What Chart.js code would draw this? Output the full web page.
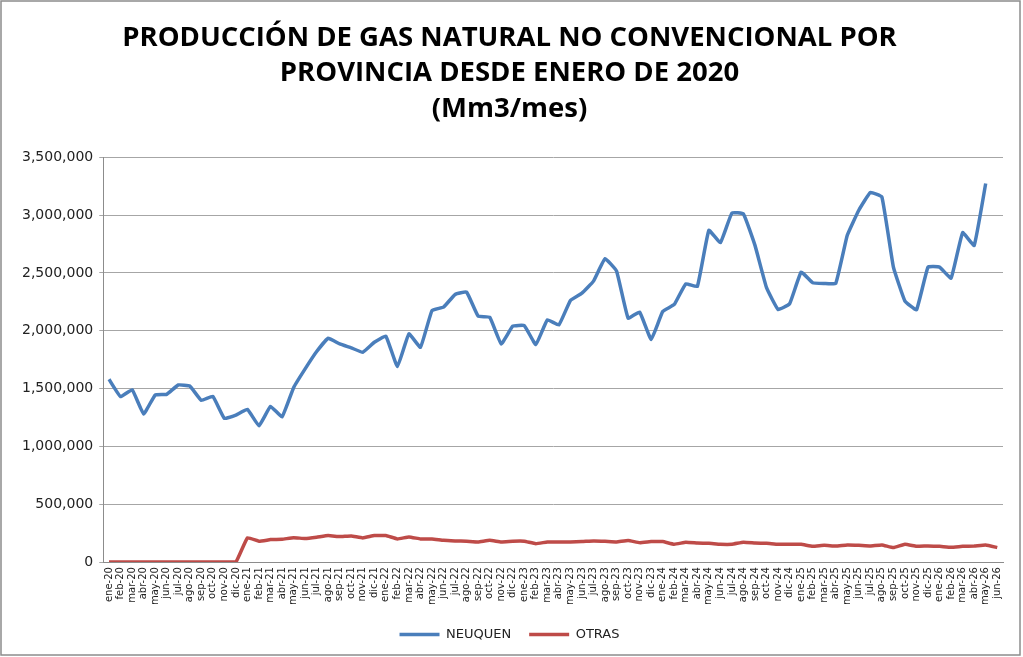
<!DOCTYPE html>
<html lang="es">
<head>
<meta charset="utf-8">
<title>Producción de gas natural no convencional</title>
<script src="https://cdn.jsdelivr.net/npm/chart.js"></script>
<style>
  html, body { margin: 0; padding: 0; background: #fff; }
  #wrap { position: relative; width: 1023px; height: 657px; }
</style>
</head>
<body>
<div id="wrap"><canvas id="grafico"></canvas></div>
<script>
const meses = [
  'ene-20','feb-20','mar-20','abr-20','may-20','jun-20','jul-20','ago-20','sep-20','oct-20','nov-20','dic-20',
  'ene-21','feb-21','mar-21','abr-21','may-21','jun-21','jul-21','ago-21','sep-21','oct-21','nov-21','dic-21',
  'ene-22','feb-22','mar-22','abr-22','may-22','jun-22','jul-22','ago-22','sep-22','oct-22','nov-22','dic-22',
  'ene-23','feb-23','mar-23','abr-23','may-23','jun-23','jul-23','ago-23','sep-23','oct-23','nov-23','dic-23',
  'ene-24','feb-24','mar-24','abr-24','may-24','jun-24','jul-24','ago-24','sep-24','oct-24','nov-24','dic-24',
  'ene-25','feb-25','mar-25','abr-25','may-25','jun-25','jul-25','ago-25','sep-25','oct-25','nov-25','dic-25',
  'ene-26','feb-26','mar-26','abr-26','may-26','jun-26'
];

// Mm3 por mes
const neuquen = [
  1580000, 1430000, 1490000, 1280000, 1444000, 1450000, 1531000, 1522000, 1398000, 1432000, 1242000, 1271000,
  1320000, 1178000, 1346000, 1256000, 1508000, 1670000, 1820000, 1935000, 1886000, 1852000, 1814000, 1900000,
  1953000, 1690000, 1973000, 1857000, 2175000, 2204000, 2314000, 2334000, 2126000, 2117000, 1886000, 2039000,
  2045000, 1880000, 2094000, 2051000, 2262000, 2325000, 2429000, 2623000, 2516000, 2109000, 2161000, 1924000,
  2166000, 2227000, 2406000, 2383000, 2868000, 2762000, 3018000, 3010000, 2738000, 2372000, 2184000, 2233000,
  2507000, 2415000, 2409000, 2409000, 2825000, 3042000, 3195000, 3157000, 2550000, 2256000, 2181000, 2550000,
  2550000, 2455000, 2848000, 2738000, 3273000, null
];

const otras = [
  0, 0, 0, 0, 0, 0, 0, 0, 0, 0, 0, 0,
  209000, 180000, 194000, 197000, 211000, 203000, 214000, 229000, 220000, 226000, 209000, 229000,
  229000, 200000, 217000, 200000, 200000, 188000, 183000, 180000, 174000, 188000, 174000, 180000,
  180000, 159000, 174000, 174000, 174000, 177000, 183000, 180000, 174000, 186000, 168000, 177000,
  177000, 154000, 171000, 165000, 162000, 154000, 154000, 171000, 165000, 162000, 154000, 154000,
  154000, 136000, 145000, 139000, 148000, 145000, 139000, 148000, 125000, 154000, 136000, 139000,
  136000, 128000, 136000, 139000, 148000, 125000
];

const tituloLineas = [
  'PRODUCCIÓN DE GAS NATURAL NO CONVENCIONAL POR',
  'PROVINCIA DESDE ENERO DE 2020',
  '(Mm3/mes)'
];

const ejeYMax = 3500000;
const ejeYPaso = 500000;

const fuenteEjes = "'DejaVu Sans', Verdana, sans-serif";

// marco gris alrededor de todo el gráfico, como en Excel
const marco = {
  id: 'marco',
  afterDraw(chart) {
    const c = chart.ctx;
    c.save();
    c.strokeStyle = '#8c8c8c';
    c.lineWidth = 1.5;
    c.strokeRect(1, 1, chart.width - 4, chart.height - 3);
    c.restore();
  }
};

new Chart(document.getElementById('grafico'), {
  type: 'line',
  data: {
    labels: meses,
    datasets: [
      {
        label: 'NEUQUEN',
        data: neuquen,
        borderColor: '#4a7ebb',
        backgroundColor: '#4a7ebb',
        borderWidth: 3.5,
        pointRadius: 0,
        tension: 0.1,
        spanGaps: false
      },
      {
        label: 'OTRAS',
        data: otras,
        borderColor: '#be4b48',
        backgroundColor: '#be4b48',
        borderWidth: 3.5,
        pointRadius: 0,
        tension: 0.1
      }
    ]
  },
  options: {
    responsive: true,
    maintainAspectRatio: false,
    animation: false,
    layout: { padding: { left: 16, right: 20, top: 0, bottom: 6 } },
    plugins: {
      title: {
        display: true,
        text: tituloLineas,
        color: '#000',
        font: { family: "'Open Sans', sans-serif", size: 27.5, weight: 'bold', lineHeight: 1.3 },
        padding: { top: 20, bottom: 30 }
      },
      legend: {
        position: 'bottom',
        labels: {
          usePointStyle: true,
          pointStyle: 'line',
          pointStyleWidth: 40,
          color: '#222',
          padding: 18,
          font: { family: fuenteEjes, size: 13 }
        }
      },
      tooltip: { enabled: false }
    },
    scales: {
      x: {
        offset: true,
        grid: { display: false, drawTicks: false },
        border: { display: true, color: '#8c8c8c', width: 1 },
        ticks: {
          autoSkip: false,
          maxRotation: 90,
          minRotation: 90,
          color: '#222',
          padding: 5,
          font: { family: fuenteEjes, size: 10 }
        }
      },
      y: {
        min: 0,
        max: ejeYMax,
        grid: { color: '#a6a6a6', lineWidth: 1, tickLength: 4 },
        border: { display: true, color: '#8c8c8c', width: 1 },
        ticks: {
          stepSize: ejeYPaso,
          color: '#222',
          padding: 6,
          font: { family: fuenteEjes, size: 14 },
          callback: v => v.toLocaleString('en-US')
        }
      }
    }
  },
  plugins: [marco]
});
</script>
</body>
</html>
